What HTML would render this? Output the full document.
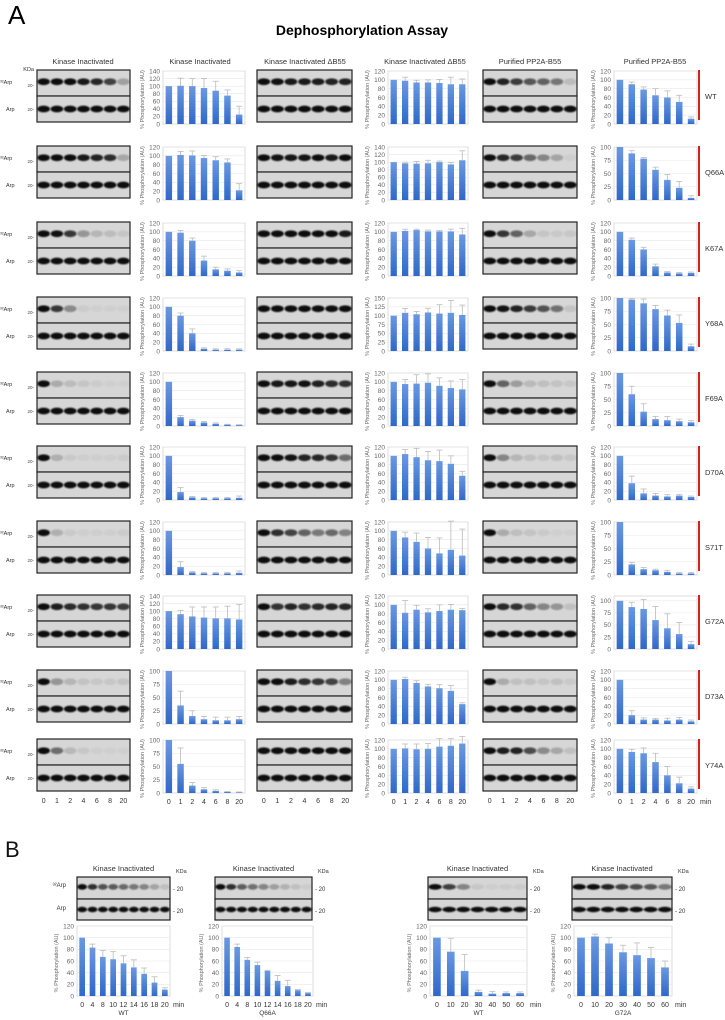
<!DOCTYPE html>
<html><head><meta charset="utf-8"><style>
body{margin:0;background:#fff;width:725px;height:1020px;overflow:hidden}
svg{display:block;font-family:"Liberation Sans",sans-serif}
</style></head><body>
<svg id="fig" width="725" height="1020" viewBox="0 0 725 1020" xmlns="http://www.w3.org/2000/svg">
<defs>
<linearGradient id="barg" x1="0" y1="0" x2="0" y2="1"><stop offset="0" stop-color="#6a98e2"/><stop offset="1" stop-color="#2f68c8"/></linearGradient>
<filter id="blur" x="-20%" y="-50%" width="140%" height="200%"><feGaussianBlur stdDeviation="0.9"/></filter>
</defs>
<text x="8" y="24" font-size="26">A</text>
<text x="362" y="35" font-size="14" font-weight="bold" text-anchor="middle">Dephosphorylation Assay</text>
<g id="content"></g>
</svg>
<script>
const mutants = ["WT","Q66A","K67A","Y68A","F69A","D70A","S71T","G72A","D73A","Y74A"];
const timeLabels = ["0","1","2","4","6","8","20"];
const kinaseValues = [[100,101,100,95,88,75,25],[100,102,101,95,90,85,22],[100,98,80,35,15,12,8],[100,80,40,5,3,3,3],[100,20,12,8,5,3,2],[100,18,6,4,4,4,5],[100,18,6,4,4,4,5],[100,92,86,83,81,81,78],[100,35,15,9,7,7,9],[100,55,14,7,4,2,1]];
const kinaseErr = [[0,20,20,25,25,15,22],[0,8,10,6,8,8,15],[0,5,6,10,5,4,4],[0,6,10,2,2,2,2],[0,4,3,2,2,1,1],[0,10,2,2,2,2,4],[0,12,2,2,2,2,4],[0,10,25,28,30,32,40],[0,27,10,5,6,6,5],[0,30,6,3,2,1,1]];
const kinaseMax = [140,120,120,120,120,120,120,140,100,100];
const kinaseStep = [20,20,20,20,20,20,20,20,25,25];
const deltaValues = [[100,98,94,94,93,90,90],[100,97,96,97,100,94,105],[100,102,104,101,101,101,94],[100,108,104,109,106,108,102],[100,95,96,98,91,86,83],[100,104,97,90,88,82,55],[100,85,75,60,49,57,44],[100,82,89,83,86,89,88],[100,102,93,85,81,75,45],[100,101,99,100,105,107,112]];
const deltaErr = [[0,8,5,6,8,16,12],[0,3,6,8,3,5,25],[0,4,2,3,2,5,14],[0,12,8,12,25,35,28],[0,10,20,20,18,16,22],[0,10,20,20,25,18,10],[0,12,20,25,35,65,60],[0,28,10,8,14,12,4],[0,4,5,5,8,12,3],[0,10,12,12,18,16,16]];
const deltaMax = [120,140,120,150,120,120,120,120,120,120];
const deltaStep = [20,20,20,25,20,20,20,20,20,20];
const pp2aValues = [[100,90,78,65,60,50,12],[100,88,78,57,38,23,4],[100,82,60,22,8,6,7],[100,97,90,79,67,53,9],[100,60,27,13,11,9,7],[100,38,15,10,8,10,7],[100,20,11,9,6,3,3],[100,87,83,60,43,31,10],[100,20,10,10,8,10,6],[100,93,90,70,40,22,10]];
const pp2aErr = [[0,5,6,15,15,15,4],[0,5,2,5,10,12,4],[0,4,5,5,2,2,2],[0,2,8,7,10,15,4],[0,15,15,5,7,4,3],[0,16,10,5,4,3,2],[0,4,3,2,3,2,2],[0,10,20,28,30,24,6],[0,10,4,3,5,5,3],[0,6,12,20,20,14,4]];
const pp2aMax = [120,100,120,100,100,120,100,110,120,120];
const pp2aStep = [20,25,20,25,25,20,25,25,20,20];
// Panel B
const bTimesA = ["0","4","8","10","12","14","16","18","20"];
const bWTValues = [100,83,67,63,56,49,38,23,11];
const bWTErr = [0,6,11,13,13,13,10,10,3];
const bQ66Values = [100,84,62,53,43,26,17,10,5];
const bQ66Err = [0,5,4,5,1,9,10,1,1];
const bTimesB = ["0","10","20","30","40","50","60"];
const bWT2Values = [100,76,43,7,4,5,5];
const bWT2Err = [0,23,28,3,4,2,2];
const bG72Values = [100,102,90,75,70,65,49];
const bG72Err = [0,4,10,12,21,18,11];

const NS="http://www.w3.org/2000/svg";
const root=document.getElementById('content');
function mk(tag,attrs,parent){const e=document.createElementNS(NS,tag);for(const k in attrs)e.setAttribute(k,attrs[k]);(parent||root).appendChild(e);return e;}
function txt(x,y,s,size,anchor,parent,fill){const t=mk('text',{x:x,y:y,'font-size':size,'text-anchor':anchor||'start',fill:fill||'#333'},parent);t.textContent=s;return t;}

function chart(name,x0,y0,w,h,vals,errs,max,step,xlabels,showX,minLabel){
  const g=mk('g',{});
  
  
  const ys=v=>y0+h-(v/max)*h;
  const n=vals.length, slot=w/n;
  const xs=i=>x0+slot*(i+0.5);
  mk('rect',{x:x0,y:y0,width:w,height:h,fill:'none',stroke:'#d6d6d6','stroke-width':0.8},g);
  for(let t=0;t<=max+0.01;t+=step){
    const y=ys(t);
    if(t>0)mk('line',{x1:x0,x2:x0+w,y1:y,y2:y,stroke:'#e8e8e8','stroke-width':0.6},g);
    const tl=txt(x0-3,y+2.3,String(t),6.5,'end',g,'#666');
    
    
  }
  const yl=txt(0,0,'% Phosphorylation (AU)',5.5,'middle',g,'#666');
  yl.setAttribute('transform',`translate(${x0-19},${y0+h/2+2}) rotate(-90)`);
  
  
  const bw=Math.min(slot*0.55,9);
  vals.forEach((v,i)=>{
    const b=mk('rect',{x:xs(i)-bw/2,y:ys(v),width:bw,height:ys(0)-ys(v),fill:'url(#barg)'},g);
    
    
    const e=errs[i];
    if(e>0){
      mk('line',{x1:xs(i),x2:xs(i),y1:ys(v),y2:ys(v+e),stroke:'#bbb','stroke-width':0.8},g);
      mk('line',{x1:xs(i)-3,x2:xs(i)+3,y1:ys(v+e),y2:ys(v+e),stroke:'#bbb','stroke-width':0.8},g);
    }
    if(showX){
      const l=txt(xs(i),y0+h+11,xlabels[i],7,'middle',g,'#333');
      
      
    }
  });
  if(showX&&minLabel){txt(x0+w+3,y0+h+11,'min',7,'start',g,'#333');}
  return g;
}

function blot(name,x0,y0,w,h1,h2,vals,lanes){
  const g=mk('g',{});
  
  
  mk('rect',{x:x0,y:y0,width:w,height:h1,fill:'#d6d6d6',stroke:'#222','stroke-width':1.2},g);
  mk('rect',{x:x0,y:y0+h1,width:w,height:h2,fill:'#d6d6d6',stroke:'#222','stroke-width':1.2},g);
  const n=lanes, slot=w/n;
  for(let i=0;i<n;i++){
    const cx=x0+slot*(i+0.5);
    const v=vals?vals[Math.min(i,vals.length-1)]:100;
    const op=Math.max(0.03,Math.min(1,v/100));
    mk('ellipse',{cx:cx,cy:y0+h1*0.45,rx:slot*0.47,ry:h1*0.13,fill:'#111','fill-opacity':op,filter:'url(#blur)'},g);
    mk('ellipse',{cx:cx,cy:y0+h1+h2*0.5,rx:slot*0.48,ry:h2*0.13,fill:'#111',filter:'url(#blur)'},g);
  }
  return g;
}

const rowTops=[70,146,222,297,372,446,521,595,670,739];
const colTitles=[[83,'Kinase Inactivated'],[200,'Kinase Inactivated'],[305,'Kinase Inactivated  \u0394B55'],[425,'Kinase Inactivated  \u0394B55'],[530,'Purified PP2A-B55'],[655,'Purified PP2A-B55']];
colTitles.forEach(c=>{const t=txt(c[0],64,c[1],7.5,'middle',root,'#333');});
txt(34,71,'KDa',5.5,'end');

mutants.forEach((m,r)=>{
  const y=rowTops[r];
  const last=(r===mutants.length-1);
  blot('blot-kinase-'+m,37,y,93,26,26,kinaseValues[r],7);
  blot('blot-delta-b55-'+m,257,y,95,26,26,deltaValues[r],7);
  blot('blot-pp2a-'+m,483,y,94,26,26,pp2aValues[r],7);
  txt(0,y+14,'\u00b3\u00b2Arp',5.5,'start',root,'#333');
  txt(6,y+41,'Arp',5.5,'start',root,'#333');
  txt(34,y+17,'20-',4.5,'end',root,'#444');
  txt(34,y+41,'20-',4.5,'end',root,'#444');
  chart('chart-kinase-'+m,163,y+1,82,53,kinaseValues[r],kinaseErr[r],kinaseMax[r],kinaseStep[r],timeLabels,last,false);
  chart('chart-delta-b55-'+m,388,y+1,80,53,deltaValues[r],deltaErr[r],deltaMax[r],deltaStep[r],timeLabels,last,false);
  chart('chart-pp2a-'+m,614,y+1,83,53,pp2aValues[r],pp2aErr[r],pp2aMax[r],pp2aStep[r],timeLabels,last,true);
  const rb=mk('rect',{x:698,y:y,width:2,height:50,fill:'#d62020'});
  
  
  const lbl=txt(705,y+29,m,7.5,'start',root,'#333');
  
  
  if(last){
    timeLabels.forEach((t,i)=>{txt(37+93/7*(i+0.5),y+64,t,7,'middle',root,'#333');});
    timeLabels.forEach((t,i)=>{txt(483+94/7*(i+0.5),y+64,t,7,'middle',root,'#333');});
    timeLabels.forEach((t,i)=>{txt(257+95/7*(i+0.5),y+64,t,7,'middle',root,'#333');});
  }
});

// Panel B
txt(5,857,'B',22,'start',root,'#111');
function panelB(id,bx,bw,cx,cw,vals,errs,times,label){
  txt(bx+bw/2,871,'Kinase Inactivated',7.5,'middle');
  txt(bx+bw+6,873,'KDa',5.5,'start');
  blot('blot-b-'+id,bx,877,bw,22,21,vals,times.length);
  txt(bx+bw+3,891,'- 20',6,'start');
  txt(bx+bw+3,913,'- 20',6,'start');
  chart('chart-b-'+id,cx,926,cw,70,vals,errs,120,20,times,true,true);
  txt(cx+cw/2,1015,label,6.5,'middle',root,'#333');
}
txt(66,887,'\u00b3\u00b2Arp',6,'end');
txt(66,910,'Arp',6,'end');
panelB('wt-a',77,93,77,93,bWTValues,bWTErr,bTimesA,'WT');
panelB('q66a',215,97,222,91,bQ66Values,bQ66Err,bTimesA,'Q66A');
panelB('wt-b',428,99,430,97,bWT2Values,bWT2Err,bTimesB,'WT');
panelB('g72a',572,100,574,98,bG72Values,bG72Err,bTimesB,'G72A');
</script>
</body></html>
